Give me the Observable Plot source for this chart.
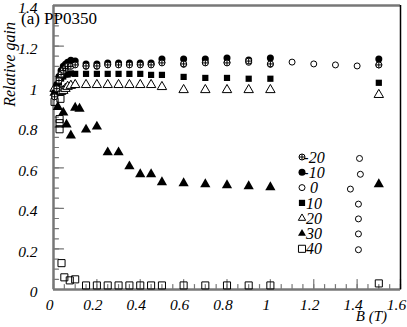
<!DOCTYPE html>
<html><head><meta charset="utf-8">
<script src="https://cdn.jsdelivr.net/npm/d3@7"></script>
<script src="https://cdn.jsdelivr.net/npm/@observablehq/plot@0.6"></script>
<style>body{margin:0;background:#fff;} #chart{position:relative;width:407px;height:327px;}</style>
</head><body><div id="chart"></div>
<script>
// ---- data ----
const xNear = [0.005,0.015,0.025,0.035,0.045,0.055,0.065,0.08];
const xMain = [0.1,0.15,0.2,0.25,0.3,0.35,0.4,0.45,0.5,0.6,0.7,0.8,0.9,1.0,1.5];

const yM20 = [0.95,0.99,1.03,1.06,1.08,1.09,1.10,1.10, 1.107,1.102,1.102,1.107,1.107,1.107,1.107,1.107,1.117,1.112,1.117,1.117,1.126,1.112,1.107];
const yM10 = [0.96,1.01,1.05,1.08,1.10,1.11,1.12,1.13, 1.126,1.112,1.112,1.117,1.117,1.117,1.117,1.117,1.136,1.136,1.136,1.141,1.131,1.141,1.136];
const x0 = [0.005,0.015,0.025,0.035,0.045,0.055,0.065,0.08, 0.1,0.15,0.2,0.25,0.3,0.35,0.4,0.45,0.5,0.6,0.7,0.8,0.9,1.0, 1.1,1.2,1.3,1.4,1.5, 1.411,1.415,1.369,1.406,1.406,1.406,1.406];
const y0 = [0.95,1.0,1.04,1.07,1.09,1.10,1.10,1.11, 1.11,1.10,1.10,1.11,1.11,1.11,1.11,1.11,1.12,1.11,1.12,1.12,1.12,1.11, 1.121,1.112,1.107,1.102,1.107, 0.646,0.568,0.495,0.421,0.348,0.274,0.196];
const yP10 = [0.97,0.99,1.02,1.04,1.05,1.06,1.06,1.065, 1.063,1.063,1.063,1.063,1.063,1.063,1.063,1.058,1.058,1.048,1.043,1.043,1.039,1.039,1.019];
const yP20 = [0.99,0.98,0.97,0.975,0.98,0.99,1.0,1.005, 1.009,1.009,1.009,1.009,1.009,1.009,1.009,1.009,0.999,0.984,0.984,0.984,0.984,0.984,0.96];
const x30 = [0.005,0.02,0.045,0.06,0.08,0.1,0.12,0.15,0.2,0.25,0.3,0.35,0.4,0.45,0.5,0.6,0.7,0.8,0.9,1.0,1.5];
const y30 = [0.97,0.9,0.872,0.813,0.759,0.896,0.891,0.788,0.803,0.676,0.676,0.607,0.568,0.568,0.529,0.524,0.519,0.514,0.509,0.504,0.519];
const x40 = [0.005,0.032,0.028,0.028,0.028,0.037,0.05,0.075,0.1,0.15,0.2,0.25,0.3,0.35,0.4,0.45,0.5,0.6,0.7,0.8,0.9,1.0,1.5];
const y40 = [0.925,0.94,0.84,0.82,0.79,0.13,0.06,0.045,0.05,0.02,0.02,0.02,0.02,0.02,0.02,0.02,0.02,0.02,0.02,0.02,0.02,0.02,0.03];

const legendLabels = ["-20","-10","0","10","20","30","40"];
const xMajor = [0,0.2,0.4,0.6,0.8,1,1.2,1.4,1.6];
const yMajor = [0,0.2,0.4,0.6,0.8,1,1.2,1.4];
const xMinor = d3.range(0,1.6001,0.05);
const yMinor = d3.range(0,1.4001,0.05);

const xNM = xNear.concat(xMain);
const pts = (xs, ys) => xs.map((x,i)=>({x, y: ys[i]}));

const serif = "Liberation Serif, DejaVu Serif, serif";
const gray = "#777777";
const fmt = d => String(d);
const tickShape = {draw(context, l) { context.moveTo(0, 0); context.lineTo(0, -l); }};

const plot = Plot.plot({
  width: 407, height: 327,
  marginLeft: 53, marginRight: 7, marginTop: 5, marginBottom: 38,
  x: {domain: [0,1.6]},
  y: {domain: [0,1.4]},
  style: {fontFamily: serif, background: "white"},
  marks: [
    // inward ticks
    Plot.vector(xMinor, {x: d => d, y: () => 0, length: 5, anchor: "start", rotate: 0, shape: tickShape, stroke: gray, strokeWidth: 1.2}),
    Plot.vector(xMajor, {x: d => d, y: () => 0, length: 10, anchor: "start", rotate: 0, shape: tickShape, stroke: gray, strokeWidth: 1.2}),
    Plot.vector(yMinor, {x: () => 0, y: d => d, length: 5, anchor: "start", rotate: 90, shape: tickShape, stroke: gray, strokeWidth: 1.2}),
    Plot.vector(yMajor, {x: () => 0, y: d => d, length: 10, anchor: "start", rotate: 90, shape: tickShape, stroke: gray, strokeWidth: 1.2}),
    Plot.axisX(xMajor, {tickSize: 0, tickPadding: 9, dx: -4, tickFormat: fmt, fontSize: 15.5, fontStyle: "italic", fill: "black", label: null}),
    Plot.axisY(yMajor, {tickSize: 0, tickPadding: 16, dy: 3, tickFormat: fmt, fontSize: 15.5, fontStyle: "italic", fill: "black", label: null}),
    // frame
    Plot.ruleY([0], {stroke: gray, strokeWidth: 2.5}),
    Plot.ruleY([1.4], {stroke: gray, strokeWidth: 2.5}),
    Plot.ruleX([0], {stroke: gray, strokeWidth: 2.5}),
    Plot.ruleX([1.6], {stroke: "black", strokeWidth: 1.5}),
    // 40 open squares
    Plot.dot(pts(x40,y40), {x:"x", y:"y", symbol:"square", r:4, stroke:"black", fill:"none", strokeWidth:1}),
    // 30 filled triangles
    Plot.dot(pts(x30,y30), {x:"x", y:"y", symbol:"triangle", r:3.8, fill:"black", stroke:"none"}),
    // 20 open triangles
    Plot.dot(pts(xNM,yP20), {x:"x", y:"y", symbol:"triangle", r:3.5, stroke:"black", fill:"white", strokeWidth:1}),
    // 10 filled squares
    Plot.dot(pts(xNM,yP10), {x:"x", y:"y", symbol:"square", r:3.5, fill:"black", stroke:"none"}),
    // -10 filled circles
    Plot.dot(pts(xNM,yM10), {x:"x", y:"y", r:3.5, fill:"black", stroke:"none"}),
    // 0 open circles
    Plot.dot(pts(x0,y0), {x:"x", y:"y", r:3, stroke:"black", fill:"none", strokeWidth:1}),
    // -20 circle with plus
    Plot.dot(pts(xNM,yM20), {x:"x", y:"y", r:3, stroke:"black", fill:"white", strokeWidth:1}),
    Plot.dot(pts(xNM,yM20), {x:"x", y:"y", symbol:"plus", r:2, stroke:"black", strokeWidth:1})
  ]
});
document.getElementById("chart").appendChild(plot);

const svg = d3.select(plot);
svg.append("text").attr("x", 59).attr("y", 24).attr("font-family", serif).attr("font-size", 17).attr("fill","black").text("(a) PP0350");
svg.append("text").attr("transform","translate(15,22) rotate(-90)").attr("text-anchor","end")
  .attr("font-family", serif).attr("font-size", 16).attr("font-style","italic").attr("fill","black").text("Relative gain");
svg.append("text").attr("x", 387).attr("y", 321).attr("text-anchor","end")
  .attr("font-family", serif).attr("font-size", 15).attr("font-style","italic").attr("fill","black").text("B (T)");

// legend
const lg = svg.append("g");
const sym = [
  {t:"circle", fill:"white", stroke:"black", plus:true, r:3},
  {t:"circle", fill:"black", stroke:"none", r:3.5},
  {t:"circle", fill:"white", stroke:"black", r:3},
  {t:"square", fill:"black", stroke:"none", r:3.5},
  {t:"triangle", fill:"white", stroke:"black", r:3.5},
  {t:"triangle", fill:"black", stroke:"none", r:3.8},
  {t:"square", fill:"white", stroke:"black", r:4}
];
const symMap = {circle: d3.symbolCircle, square: d3.symbolSquare, triangle: d3.symbolTriangle2};
legendLabels.forEach((lab,i)=>{
  const yy = 157 + i*15.3;
  const s = sym[i];
  lg.append("path").attr("transform",`translate(302,${yy})`)
    .attr("d", d3.symbol(symMap[s.t], Math.PI*s.r*s.r)())
    .attr("fill", s.fill).attr("stroke", s.stroke);
  if (s.plus) lg.append("path").attr("transform",`translate(302,${yy})`)
    .attr("d", d3.symbol(d3.symbolPlus, Math.PI*2*2)()).attr("fill","none").attr("stroke","black");
  lg.append("text").attr("x", 314).attr("y", yy).attr("dy","0.35em")
    .attr("font-family", serif).attr("font-size", 16).attr("font-style","italic").attr("fill","black").text(lab);
});
</script>
</body></html>
